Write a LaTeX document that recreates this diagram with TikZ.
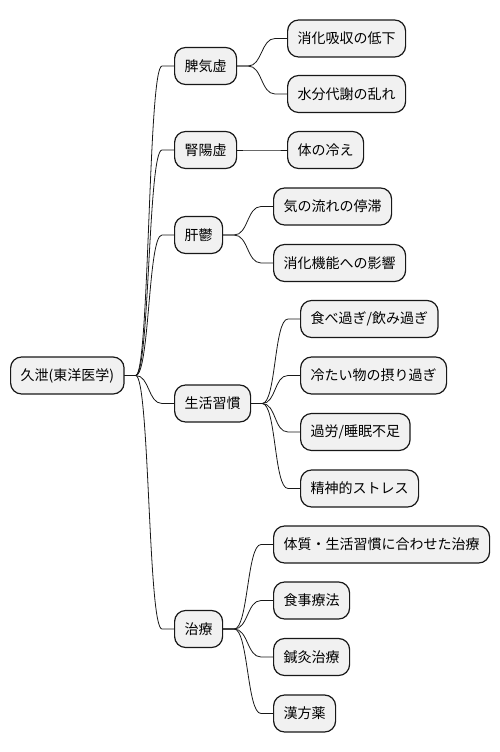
\documentclass[tikz,border=0pt]{standalone}
\usepackage{fontspec}
\setmainfont{Noto Sans CJK JP}
\usetikzlibrary{calc}
\definecolor{boxfill}{HTML}{F1F1F1}
\definecolor{boxline}{HTML}{181818}

\tikzstyle{topic}=[draw=boxline, fill=boxfill, line width=1.2pt, rounded corners=11pt, minimum height=37pt, inner xsep=10pt, anchor=west, font=\fontsize{14}{16}\selectfont]
\tikzstyle{branch}=[boxline, line width=0.8pt, to path={-- ($(\tikztostart)+(11,0)$) .. controls ($(\tikztostart)+(25,0)$) and ($(\tikztotarget)+(-26,0)$) .. ($(\tikztotarget)+(-12,0)$) -- (\tikztotarget)}]

\begin{document}
\begin{tikzpicture}[x=1pt, y=-1pt]
      \useasboundingbox (0, 0) rectangle (499, 752);

      \node[topic] (root) at (10, 375.5) {久泄(東洋医学)};

      \node[topic] (hi) at (174, 66) {脾気虚};
      \node[topic] (jin) at (174, 150) {腎陽虚};
      \node[topic] (kan) at (174, 235) {肝鬱};
      \node[topic] (life) at (174, 403.5) {生活習慣};
      \node[topic] (care) at (174, 629) {治療};

      \node[topic] (hi1) at (287, 38.5) {消化吸収の低下};
      \node[topic] (hi2) at (287, 94) {水分代謝の乱れ};
      \node[topic] (jin1) at (287, 150) {体の冷え};
      \node[topic] (kan1) at (273, 206.5) {気の流れの停滞};
      \node[topic] (kan2) at (273, 263) {消化機能への影響};
      \node[topic] (life1) at (300, 319) {食べ過ぎ/飲み過ぎ};
      \node[topic] (life2) at (300, 375.5) {冷たい物の摂り過ぎ};
      \node[topic] (life3) at (300, 432) {過労/睡眠不足};
      \node[topic] (life4) at (300, 488.5) {精神的ストレス};
      \node[topic] (care1) at (273, 544.5) {体質・生活習慣に合わせた治療};
      \node[topic] (care2) at (273, 600.5) {食事療法};
      \node[topic] (care3) at (273, 657) {鍼灸治療};
      \node[topic] (care4) at (273, 713.5) {漢方薬};

      \draw[branch] (root.east) to (hi.west);
      \draw[branch] (root.east) to (jin.west);
      \draw[branch] (root.east) to (kan.west);
      \draw[branch] (root.east) to (life.west);
      \draw[branch] (root.east) to (care.west);

      \draw[branch] (hi.east) to (hi1.west);
      \draw[branch] (hi.east) to (hi2.west);
      \draw[branch] (jin.east) to (jin1.west);
      \draw[branch] (kan.east) to (kan1.west);
      \draw[branch] (kan.east) to (kan2.west);
      \draw[branch] (life.east) to (life1.west);
      \draw[branch] (life.east) to (life2.west);
      \draw[branch] (life.east) to (life3.west);
      \draw[branch] (life.east) to (life4.west);
      \draw[branch] (care.east) to (care1.west);
      \draw[branch] (care.east) to (care2.west);
      \draw[branch] (care.east) to (care3.west);
      \draw[branch] (care.east) to (care4.west);
    \end{tikzpicture}
\end{document}
